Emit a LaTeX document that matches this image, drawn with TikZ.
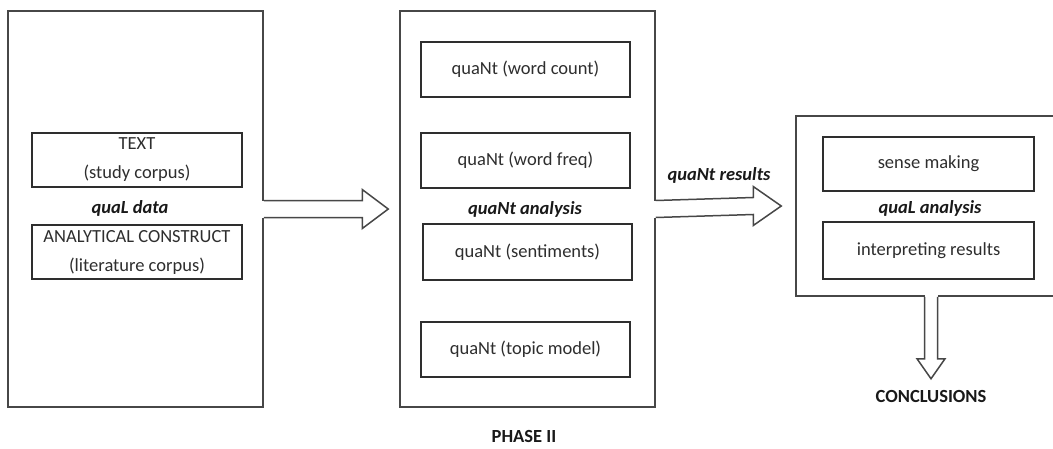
\documentclass[tikz,border=0pt]{standalone}
\usepackage{fontspec}
\setmainfont{Carlito}
\usetikzlibrary{calc}
\definecolor{frame}{HTML}{474747}
\definecolor{ink}{HTML}{2E2E2E}
\tikzset{
  panel/.style={draw=frame, line width=1.5pt, fill=white, minimum width=255pt, minimum height=396pt, inner sep=0pt},
  stepbox/.style={draw=ink, line width=1.3pt, minimum width=210pt, minimum height=55pt, inner sep=0pt, align=center, font=\fontsize{18.5}{29}\selectfont, text=ink},
  tag/.style={font=\fontsize{18.5}{22}\selectfont\bfseries\itshape, text=black!90},
  heading/.style={font=\fontsize{18.5}{22}\selectfont\bfseries, text=black!90},
  bigarrow/.style={draw=frame, line width=1.5pt, line join=miter},
}
\begin{document}
\begin{tikzpicture}[x=1pt, y=-1pt]
\clip (0,0) rectangle (1053,448);
\fill[white] (0,0) rectangle (1053,448);

% phase I: the data
\node[panel] (p1) at (135.5,209) {};
\node[stepbox, minimum height=54pt] (text) at (137,160) {TEXT\\(study corpus)};
\node[tag] (qualdata) at (130,208) {quaL data};
\node[stepbox, minimum height=54pt] (construct) at (137,252) {ANALYTICAL CONSTRUCT\\(literature corpus)};

% phase II: quantitative analysis
\node[panel] (p2) at (527.5,209) {};
\node[stepbox, minimum width=209pt] (wc) at (525.5,69.5) {quaNt (word count)};
\node[stepbox, minimum width=209pt] (wf) at (525.5,160.5) {quaNt (word freq)};
\node[tag] (quant) at (525,209) {quaNt analysis};
\node[stepbox, minimum width=209pt, minimum height=56pt] (se) at (527.5,252) {quaNt (sentiments)};
\node[stepbox, minimum width=209pt] (tm) at (525.5,349.5) {quaNt (topic model)};
\node[heading, anchor=base, inner sep=0pt] (phase) at (524,442) {PHASE II};

% phase III: qualitative analysis
\node[panel, minimum width=269pt, minimum height=180pt] (p3) at (930.5,206) {};
\node[stepbox, minimum width=211pt, minimum height=54pt] (sm) at (928.5,164) {sense making};
\node[tag] (qualan) at (930,208) {quaL analysis};
\node[stepbox, minimum width=211pt, minimum height=57pt] (ir) at (928.5,250.5) {interpreting results};
\node[heading] (concl) at (931,396) {CONCLUSIONS};
\node[tag] (results) at (719,175) {quaNt results};

% block arrow leaving p1 through its right side
\fill[white] ($(p1.east)+(-2,-8.5)$) rectangle ($(p1.east)+(100,8.5)$);
\draw[bigarrow] ($(p1.east)+(0,-8.5)$) -- ($(p2.west)+(-37,-8.5)$) -- ($(p2.west)+(-37,-19.5)$)
  -- ($(p2.west)+(-11,0)$) -- ($(p2.west)+(-37,19.5)$) -- ($(p2.west)+(-37,8.5)$) -- ($(p1.east)+(0,8.5)$);

% block arrow leaving p2 through its right side
\fill[white] ($(p2.east)+(-2,-8.5)$) rectangle ($(p2.east)+(100,8.5)$);
\draw[bigarrow] ($(p2.east)+(0,-8.5)$) -- ($(p3.west)+(-42,-8.5)$) -- ($(p3.west)+(-42,-19.5)$)
  -- ($(p3.west)+(-14,0)$) -- ($(p3.west)+(-42,19.5)$) -- ($(p3.west)+(-42,8.5)$) -- ($(p2.east)+(0,8.5)$);

% block arrow down from p3 to the conclusions
\coordinate (dn) at (p3.south -| concl);
\fill[white] ($(dn)+(-6.5,-2)$) rectangle ($(dn)+(6.5,10)$);
\draw[bigarrow] ($(dn)+(-6.5,0)$) -- ($(dn)+(-6.5,62)$) -- ($(dn)+(-14,62)$)
  -- ($(dn)+(0,82)$) -- ($(dn)+(14,62)$) -- ($(dn)+(6.5,62)$) -- ($(dn)+(6.5,0)$);
\end{tikzpicture}
\end{document}
